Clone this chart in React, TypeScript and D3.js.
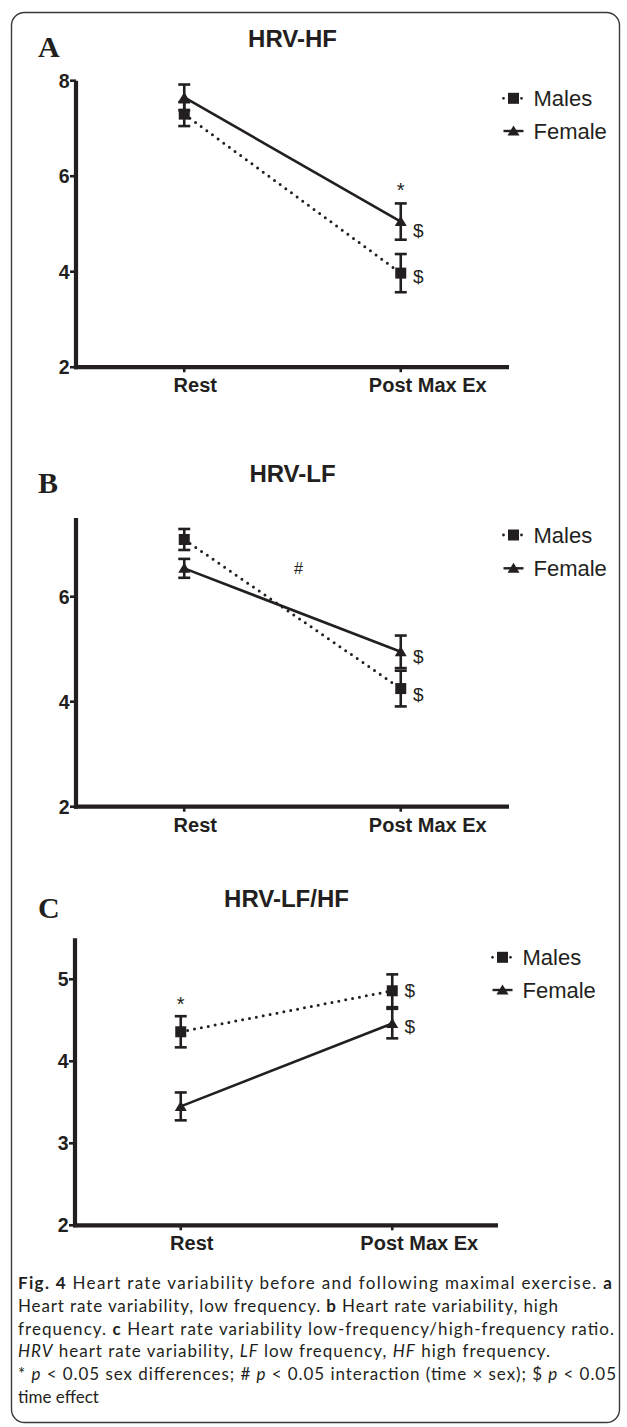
import React from "react";
import * as d3 from "d3";

// ---------- data ----------
const categories = ["Rest", "Post Max Ex"];

const hfTicks = [2, 4, 6, 8];
const hfMales = [7.3, 3.97];
const hfMalesErr = [0.25, 0.4];
const hfFemales = [7.65, 5.05];
const hfFemalesErr = [0.27, 0.38];

const lfTicks = [2, 4, 6];
const lfMales = [7.09, 4.25];
const lfMalesErr = [0.2, 0.34];
const lfFemales = [6.54, 4.95];
const lfFemalesErr = [0.18, 0.31];

const ratioTicks = [2, 3, 4, 5];
const ratioMales = [4.36, 4.86];
const ratioMalesErr = [0.19, 0.2];
const ratioFemales = [3.45, 4.46];
const ratioFemalesErr = [0.17, 0.18];

const legendLabels = ["Males", "Female"];

// annotations: [symbol, category ("mid" = between), value]
const hfNotes: [string, string, number][] = [
  ["*", "Post Max Ex", 5.82],
  ["$", "Post Max Ex", 4.87],
  ["$", "Post Max Ex", 3.89],
];
const lfNotes: [string, string, number][] = [
  ["#", "mid", 6.54],
  ["$", "Post Max Ex", 4.86],
  ["$", "Post Max Ex", 4.13],
];
const ratioNotes: [string, string, number][] = [
  ["*", "Rest", 4.76],
  ["$", "Post Max Ex", 4.86],
  ["$", "Post Max Ex", 4.43],
];

const INK = "#231f20";
const SANS = "'Liberation Sans', Arial, Helvetica, sans-serif";

type PanelProps = {
  letter: string;
  title: string;
  ticks: number[];
  yMax: number;
  yBottom: number;
  yTop: number;
  xLeft: number;
  xRight: number;
  males: number[];
  malesErr: number[];
  females: number[];
  femalesErr: number[];
  notes: [string, string, number][];
  titleBaseline: number;
  letterBaseline: number;
  legendRows: number[];
};

function Panel(p: PanelProps) {
  const y = d3.scaleLinear().domain([2, p.yMax]).range([p.yBottom, p.yTop]);
  const x = d3.scalePoint<string>().domain(categories).range([p.xLeft, p.xRight]).padding(0.5);
  const line = d3
    .line<number>()
    .x((_, i) => x(categories[i]) as number)
    .y((d) => y(d));
  const labelOffsets = [11, 27];
  const cx = (p.xLeft + p.xRight) / 2;
  const legendX = p.xRight + 4.5;

  const errBars = (vals: number[], errs: number[], key: string) =>
    vals.map((v, i) => {
      const xi = x(categories[i]) as number;
      const t = y(v + errs[i]);
      const b = y(v - errs[i]);
      return (
        <g key={key + i} stroke={INK} strokeWidth={2.6}>
          <line x1={xi} x2={xi} y1={t} y2={b} />
          <line x1={xi - 6} x2={xi + 6} y1={t} y2={t} />
          <line x1={xi - 6} x2={xi + 6} y1={b} y2={b} />
        </g>
      );
    });

  const square = (px: number, py: number, k: string) => (
    <rect key={k} x={px - 5.5} y={py - 5.5} width={11} height={11} fill={INK} />
  );
  const triangle = (px: number, py: number, k: string) => (
    <path
      key={k}
      d={`M${px},${py - 5.5} L${px + 6},${py + 4.5} L${px - 6},${py + 4.5} Z`}
      fill={INK}
    />
  );

  return (
    <g>
      <text
        x={38}
        y={p.letterBaseline}
        fontFamily="'Liberation Serif', 'Times New Roman', serif"
        fontWeight="bold"
        fontSize={30}
        fill={INK}
      >
        {p.letter}
      </text>
      <text
        x={cx}
        y={p.titleBaseline}
        textAnchor="middle"
        fontFamily={SANS}
        fontWeight="bold"
        fontSize={24}
        fill={INK}
      >
        {p.title}
      </text>

      <line x1={p.xLeft} x2={p.xLeft} y1={p.yTop} y2={p.yBottom + 2} stroke={INK} strokeWidth={4.2} />
      <line x1={p.xLeft - 2} x2={p.xRight} y1={p.yBottom} y2={p.yBottom} stroke={INK} strokeWidth={4.2} />
      {p.ticks.map((t) => (
        <g key={"t" + t}>
          <line x1={p.xLeft - 6} x2={p.xLeft} y1={y(t)} y2={y(t)} stroke={INK} strokeWidth={2.6} />
          <text
            x={p.xLeft - 6.5}
            y={y(t) + 7}
            textAnchor="end"
            fontFamily={SANS}
            fontWeight="bold"
            fontSize={19.5}
            fill={INK}
          >
            {t}
          </text>
        </g>
      ))}
      {categories.map((c, i) => (
        <g key={"c" + c}>
          <line
            x1={x(c) as number}
            x2={x(c) as number}
            y1={p.yBottom}
            y2={p.yBottom + 5}
            stroke={INK}
            strokeWidth={2.6}
          />
          <text
            x={(x(c) as number) + labelOffsets[i]}
            y={p.yBottom + 25}
            textAnchor="middle"
            fontFamily={SANS}
            fontWeight="bold"
            fontSize={20}
            fill={INK}
          >
            {c}
          </text>
        </g>
      ))}

      <path
        d={line(p.males) as string}
        fill="none"
        stroke={INK}
        strokeWidth={3}
        strokeDasharray="0 7"
        strokeLinecap="round"
      />
      <path d={line(p.females) as string} fill="none" stroke={INK} strokeWidth={2.6} />

      {errBars(p.males, p.malesErr, "me")}
      {errBars(p.females, p.femalesErr, "fe")}
      {p.males.map((v, i) => square(x(categories[i]) as number, y(v), "ms" + i))}
      {p.females.map((v, i) => triangle(x(categories[i]) as number, y(v), "ft" + i))}

      {p.notes.map(([s, c, v], i) => {
        const base = c === "mid" ? cx + 6 : (x(c) as number);
        const px = s === "$" ? base + 17.5 : base;
        const size = s === "#" ? 16 : s === "*" ? 20 : 19;
        const dy = s === "*" ? 12 : s === "$" ? 6.5 : 6;
        return (
          <text
            key={"n" + i}
            x={px}
            y={y(v) + dy}
            textAnchor="middle"
            fontFamily={SANS}
            fontSize={size}
            fill={INK}
          >
            {s}
          </text>
        );
      })}

      {legendLabels.map((lab, i) => {
        const ly = p.legendRows[i];
        return (
          <g key={"l" + lab}>
            {i === 0 ? (
              <line
                x1={legendX - 10}
                x2={legendX + 10}
                y1={ly}
                y2={ly}
                stroke={INK}
                strokeWidth={2.8}
                strokeDasharray="0 6"
                strokeLinecap="round"
              />
            ) : (
              <line x1={legendX - 10} x2={legendX + 10} y1={ly} y2={ly} stroke={INK} strokeWidth={2.4} />
            )}
            {i === 0 ? square(legendX, ly, "lm") : triangle(legendX, ly, "lf")}
            <text x={legendX + 20} y={ly + 8} fontFamily={SANS} fontSize={22} fill={INK}>
              {lab}
            </text>
          </g>
        );
      })}
    </g>
  );
}

const CAP = "Lato, 'Open Sans', sans-serif";

export default function App() {
  return (
    <svg
      width={627}
      height={1427}
      viewBox="0 0 627 1427"
      style={{ position: "absolute", left: 0, top: 0, background: "#fff" }}
    >
      <rect x={0} y={0} width={627} height={1427} fill="#fff" />
      <rect
        x={11.5}
        y={12.5}
        width={608}
        height={1410}
        rx={13}
        ry={13}
        fill="none"
        stroke="#3a3a3a"
        strokeWidth={1.4}
      />
      <Panel
        letter="A"
        title="HRV-HF"
        ticks={hfTicks}
        yMax={8}
        yBottom={367.2}
        yTop={80.7}
        xLeft={76}
        xRight={509}
        males={hfMales}
        malesErr={hfMalesErr}
        females={hfFemales}
        femalesErr={hfFemalesErr}
        notes={hfNotes}
        titleBaseline={46.5}
        letterBaseline={57}
        legendRows={[98.3, 131]}
      />
      <Panel
        letter="B"
        title="HRV-LF"
        ticks={lfTicks}
        yMax={7.5}
        yBottom={806.7}
        yTop={806.7 - 5.5 * 52.5}
        xLeft={76}
        xRight={509}
        males={lfMales}
        malesErr={lfMalesErr}
        females={lfFemales}
        femalesErr={lfFemalesErr}
        notes={lfNotes}
        titleBaseline={481.5}
        letterBaseline={493}
        legendRows={[535, 568.3]}
      />
      <Panel
        letter="C"
        title="HRV-LF/HF"
        ticks={ratioTicks}
        yMax={5.5}
        yBottom={1225.3}
        yTop={1225.3 - 3.5 * 82}
        xLeft={75}
        xRight={498}
        males={ratioMales}
        malesErr={ratioMalesErr}
        females={ratioFemales}
        femalesErr={ratioFemalesErr}
        notes={ratioNotes}
        titleBaseline={906.5}
        letterBaseline={918}
        legendRows={[957.3, 990]}
      />

      <g fontFamily={CAP} fontSize={17} fill={INK}>
        <text x={18} y={1289} textLength={594} lengthAdjust="spacing">
          <tspan fontWeight="bold">Fig. 4</tspan> Heart rate variability before and following maximal exercise.{" "}
          <tspan fontWeight="bold">a</tspan>
        </text>
        <text x={18} y={1312} textLength={540} lengthAdjust="spacing">
          Heart rate variability, low frequency. <tspan fontWeight="bold">b</tspan> Heart rate variability, high
        </text>
        <text x={18} y={1335} textLength={596} lengthAdjust="spacing">
          frequency. <tspan fontWeight="bold">c</tspan> Heart rate variability low-frequency/high-frequency ratio.
        </text>
        <text x={18} y={1357} textLength={532} lengthAdjust="spacing">
          <tspan fontStyle="italic">HRV</tspan> heart rate variability, <tspan fontStyle="italic">LF</tspan> low
          frequency, <tspan fontStyle="italic">HF</tspan> high frequency.
        </text>
        <text x={18} y={1380} textLength={598} lengthAdjust="spacing">
          * <tspan fontStyle="italic">p</tspan> &lt; 0.05 sex differences; # <tspan fontStyle="italic">p</tspan> &lt;
          0.05 interaction (time × sex); $ <tspan fontStyle="italic">p</tspan> &lt; 0.05
        </text>
        <text x={18} y={1403}>
          time effect
        </text>
      </g>
    </svg>
  );
}
